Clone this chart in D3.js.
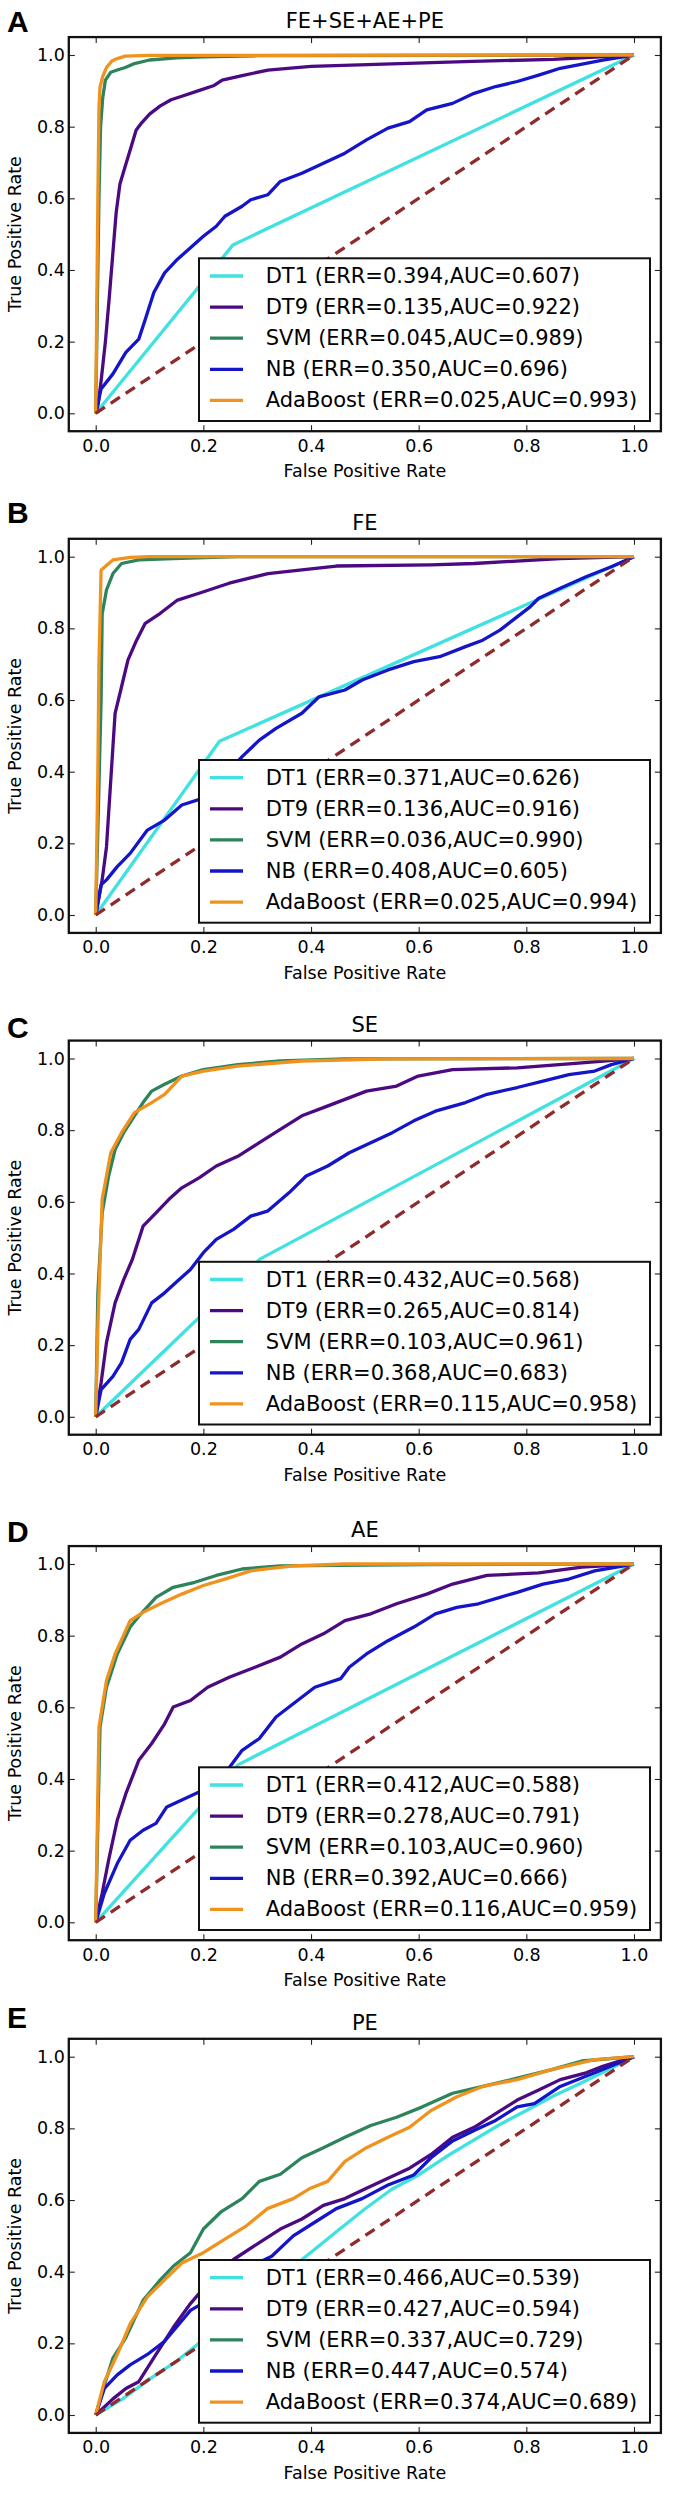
<!DOCTYPE html>
<html>
<head>
<meta charset="utf-8">
<script src="https://cdn.jsdelivr.net/npm/d3@7/dist/d3.min.js"></script>
<style>
  html, body { margin: 0; padding: 0; background: #fff; }
  svg { display: block; }
  text { font-family: "DejaVu Sans", sans-serif; fill: #000; }
</style>
</head>
<body>
<svg id="chart" width="674" height="2493"></svg>
<script>
// ---------------- DATA ----------------
const classifiers = ["DT1", "DT9", "SVM", "NB", "AdaBoost"];
const panelLetters = ["A", "B", "C", "D", "E"];
const panelTitles = ["FE+SE+AE+PE", "FE", "SE", "AE", "PE"];
const tickValues = [0.0, 0.2, 0.4, 0.6, 0.8, 1.0];
const tickLabels = ["0.0", "0.2", "0.4", "0.6", "0.8", "1.0"];
const xAxisTitle = "False Positive Rate";
const yAxisTitle = "True Positive Rate";

// ERR / AUC per panel, in classifier order
const errA = [0.394, 0.135, 0.045, 0.350, 0.025];
const aucA = [0.607, 0.922, 0.989, 0.696, 0.993];
const errB = [0.371, 0.136, 0.036, 0.408, 0.025];
const aucB = [0.626, 0.916, 0.990, 0.605, 0.994];
const errC = [0.432, 0.265, 0.103, 0.368, 0.115];
const aucC = [0.568, 0.814, 0.961, 0.683, 0.958];
const errD = [0.412, 0.278, 0.103, 0.392, 0.116];
const aucD = [0.588, 0.791, 0.960, 0.666, 0.959];
const errE = [0.466, 0.427, 0.337, 0.447, 0.374];
const aucE = [0.539, 0.594, 0.729, 0.574, 0.689];

const chanceLine = [[0, 0], [1, 1]];

// ROC curves [FPR, TPR]
// Panel A: FE+SE+AE+PE
const rocA_DT1 = [[0,0],[0.255,0.47],[1,1]];
const rocA_DT9 = [[0,0],[0.005,0.03],[0.01,0.09],[0.018,0.2],[0.025,0.32],[0.032,0.45],[0.038,0.56],[0.045,0.64],[0.055,0.69],[0.065,0.74],[0.075,0.79],[0.085,0.81],[0.1,0.835],[0.12,0.858],[0.14,0.875],[0.16,0.885],[0.19,0.9],[0.22,0.915],[0.235,0.93],[0.27,0.942],[0.32,0.958],[0.4,0.968],[0.55,0.975],[0.7,0.982],[0.85,0.988],[1,1]];
const rocA_SVM = [[0,0],[0.003,0.3],[0.006,0.6],[0.009,0.8],[0.013,0.88],[0.018,0.93],[0.028,0.952],[0.04,0.958],[0.055,0.965],[0.07,0.975],[0.1,0.986],[0.15,0.992],[0.2,0.995],[0.3,0.998],[1,1]];
const rocA_NB = [[0,0],[0.01,0.068],[0.032,0.11],[0.056,0.17],[0.08,0.207],[0.092,0.262],[0.108,0.337],[0.128,0.392],[0.152,0.43],[0.176,0.462],[0.2,0.494],[0.224,0.522],[0.24,0.55],[0.272,0.578],[0.288,0.596],[0.32,0.61],[0.343,0.647],[0.383,0.67],[0.423,0.698],[0.463,0.726],[0.503,0.763],[0.543,0.796],[0.583,0.814],[0.615,0.847],[0.663,0.865],[0.703,0.893],[0.743,0.912],[0.783,0.926],[0.823,0.944],[0.863,0.963],[0.942,0.986],[1,1]];
const rocA_Ada = [[0,0],[0.002,0.3],[0.004,0.6],[0.006,0.85],[0.008,0.91],[0.013,0.94],[0.02,0.965],[0.03,0.983],[0.04,0.99],[0.055,0.997],[0.1,0.999],[1,1]];

// Panel B: FE
const rocB_DT1 = [[0,0],[0.23,0.485],[1,1]];
const rocB_DT9 = [[0,0],[0.012,0.098],[0.02,0.19],[0.028,0.377],[0.036,0.563],[0.048,0.637],[0.06,0.712],[0.076,0.767],[0.092,0.814],[0.12,0.842],[0.152,0.879],[0.192,0.898],[0.248,0.926],[0.32,0.953],[0.383,0.963],[0.447,0.974],[0.623,0.977],[0.703,0.981],[0.863,0.995],[1,1]];
const rocB_SVM = [[0,0],[0.005,0.3],[0.01,0.6],[0.012,0.84],[0.02,0.907],[0.032,0.953],[0.048,0.981],[0.08,0.991],[0.144,0.995],[0.264,1],[1,1]];
const rocB_NB = [[0,0],[0.01,0.084],[0.02,0.098],[0.04,0.135],[0.064,0.172],[0.096,0.237],[0.128,0.265],[0.16,0.307],[0.2,0.326],[0.232,0.377],[0.272,0.442],[0.304,0.488],[0.335,0.521],[0.383,0.563],[0.415,0.609],[0.463,0.628],[0.495,0.656],[0.543,0.684],[0.591,0.707],[0.639,0.721],[0.687,0.749],[0.719,0.767],[0.751,0.795],[0.775,0.823],[0.807,0.86],[0.823,0.884],[0.863,0.912],[0.911,0.944],[0.958,0.972],[1,1]];
const rocB_Ada = [[0,0],[0.004,0.4],[0.006,0.7],[0.01,0.963],[0.032,0.991],[0.064,0.998],[0.1,1],[1,1]];

// Panel C: SE
const rocC_DT1 = [[0,0],[0.305,0.44],[1,1]];
const rocC_DT9 = [[0,0],[0.01,0.095],[0.02,0.207],[0.036,0.318],[0.052,0.383],[0.068,0.439],[0.088,0.532],[0.112,0.569],[0.136,0.607],[0.16,0.639],[0.192,0.667],[0.224,0.7],[0.264,0.727],[0.304,0.765],[0.343,0.802],[0.383,0.84],[0.423,0.863],[0.463,0.886],[0.503,0.909],[0.559,0.923],[0.599,0.951],[0.663,0.969],[0.783,0.974],[0.903,0.988],[1,1]];
const rocC_SVM = [[0,0],[0.004,0.346],[0.012,0.569],[0.024,0.672],[0.036,0.746],[0.052,0.793],[0.072,0.84],[0.088,0.877],[0.104,0.909],[0.128,0.928],[0.16,0.951],[0.2,0.969],[0.264,0.983],[0.343,0.993],[0.463,0.999],[1,1]];
const rocC_NB = [[0,0],[0.01,0.076],[0.032,0.113],[0.048,0.151],[0.064,0.216],[0.08,0.244],[0.104,0.318],[0.128,0.346],[0.152,0.379],[0.176,0.411],[0.2,0.458],[0.224,0.495],[0.256,0.523],[0.288,0.56],[0.319,0.574],[0.359,0.625],[0.391,0.672],[0.431,0.7],[0.471,0.737],[0.511,0.765],[0.551,0.793],[0.591,0.826],[0.631,0.853],[0.687,0.877],[0.727,0.9],[0.783,0.919],[0.831,0.937],[0.879,0.955],[0.927,0.965],[0.958,0.983],[1,1]];
const rocC_Ada = [[0,0],[0.004,0.253],[0.012,0.607],[0.028,0.737],[0.048,0.793],[0.072,0.849],[0.104,0.877],[0.128,0.9],[0.16,0.951],[0.2,0.965],[0.264,0.979],[0.383,0.993],[0.543,0.999],[1,1]];

// Panel D: AE
const rocD_DT1 = [[0,0],[0.265,0.44],[1,1]];
const rocD_DT9 = [[0,0],[0.012,0.081],[0.024,0.174],[0.04,0.285],[0.056,0.359],[0.08,0.452],[0.104,0.499],[0.128,0.554],[0.144,0.601],[0.176,0.619],[0.208,0.656],[0.248,0.684],[0.296,0.712],[0.343,0.74],[0.383,0.777],[0.423,0.805],[0.463,0.842],[0.511,0.861],[0.559,0.889],[0.615,0.916],[0.663,0.944],[0.727,0.968],[0.823,0.975],[0.903,0.991],[1,1]];
const rocD_SVM = [[0,0],[0.008,0.545],[0.02,0.656],[0.04,0.749],[0.064,0.824],[0.084,0.861],[0.112,0.907],[0.144,0.935],[0.184,0.949],[0.224,0.968],[0.272,0.986],[0.343,0.995],[0.623,0.998],[1,1]];
const rocD_NB = [[0,0],[0.016,0.081],[0.04,0.164],[0.064,0.229],[0.088,0.257],[0.112,0.276],[0.132,0.322],[0.16,0.341],[0.2,0.369],[0.24,0.415],[0.272,0.48],[0.304,0.513],[0.335,0.573],[0.367,0.61],[0.407,0.656],[0.455,0.68],[0.471,0.712],[0.503,0.749],[0.543,0.786],[0.591,0.824],[0.631,0.861],[0.671,0.879],[0.711,0.889],[0.751,0.907],[0.783,0.921],[0.831,0.944],[0.879,0.958],[0.927,0.981],[1,1]];
const rocD_Ada = [[0,0],[0.006,0.545],[0.02,0.675],[0.036,0.749],[0.064,0.842],[0.088,0.865],[0.12,0.889],[0.16,0.916],[0.2,0.94],[0.24,0.958],[0.288,0.981],[0.367,0.995],[0.463,1],[1,1]];

// Panel E: PE
const rocE_DT1 = [[0,0],[0.05,0.045],[0.1,0.1],[0.15,0.15],[0.2,0.21],[0.3,0.32],[0.38,0.43],[0.45,0.515],[0.5,0.575],[0.55,0.63],[0.6,0.67],[0.65,0.72],[0.7,0.765],[0.75,0.81],[0.8,0.85],[0.85,0.89],[0.9,0.925],[0.95,0.962],[1,1]];
const rocE_DT9 = [[0,0],[0.032,0.045],[0.056,0.074],[0.08,0.093],[0.112,0.169],[0.144,0.244],[0.176,0.311],[0.208,0.367],[0.256,0.434],[0.304,0.481],[0.343,0.519],[0.383,0.547],[0.423,0.585],[0.463,0.604],[0.503,0.633],[0.543,0.661],[0.583,0.689],[0.623,0.727],[0.663,0.775],[0.703,0.803],[0.743,0.841],[0.783,0.879],[0.823,0.907],[0.863,0.936],[0.911,0.955],[0.942,0.973],[1,1]];
const rocE_SVM = [[0,0],[0.016,0.083],[0.032,0.159],[0.056,0.216],[0.088,0.32],[0.12,0.377],[0.144,0.415],[0.176,0.453],[0.2,0.519],[0.232,0.566],[0.272,0.604],[0.304,0.652],[0.343,0.672],[0.383,0.718],[0.423,0.746],[0.463,0.775],[0.511,0.808],[0.559,0.831],[0.607,0.86],[0.663,0.898],[0.719,0.917],[0.783,0.94],[0.847,0.964],[0.903,0.988],[1,1]];
const rocE_NB = [[0,0],[0.016,0.074],[0.04,0.112],[0.064,0.14],[0.096,0.169],[0.128,0.206],[0.16,0.263],[0.176,0.292],[0.208,0.32],[0.248,0.358],[0.288,0.415],[0.327,0.443],[0.367,0.5],[0.407,0.538],[0.447,0.576],[0.495,0.604],[0.543,0.642],[0.591,0.67],[0.623,0.718],[0.663,0.765],[0.703,0.794],[0.743,0.822],[0.783,0.86],[0.815,0.869],[0.863,0.917],[0.927,0.955],[1,1]];
const rocE_Ada = [[0,0],[0.016,0.093],[0.04,0.169],[0.064,0.254],[0.096,0.33],[0.128,0.377],[0.16,0.424],[0.2,0.453],[0.24,0.491],[0.28,0.528],[0.319,0.576],[0.367,0.604],[0.399,0.633],[0.431,0.652],[0.463,0.708],[0.503,0.746],[0.543,0.775],[0.583,0.803],[0.623,0.85],[0.671,0.888],[0.719,0.917],[0.783,0.936],[0.847,0.964],[0.927,0.992],[1,1]];

// ---------------- STYLE / LAYOUT ----------------
const seriesColors = ["#3fe2e0", "#4b0a82", "#2e845a", "#1414c8", "#f0921e"];
const chanceColor = "#8f2b2b";
const Y1 = [55, 556.7, 1058.5, 1564, 2056.7];          // pixel of TPR = 1.0 for each panel
const LETTER_BASE = [31.7, 523.3, 1037.5, 1542, 2028.3];
const UNIT_H = 358.3;

const panels = [
  { roc: [rocA_DT1, rocA_DT9, rocA_SVM, rocA_NB, rocA_Ada], err: errA, auc: aucA },
  { roc: [rocB_DT1, rocB_DT9, rocB_SVM, rocB_NB, rocB_Ada], err: errB, auc: aucB },
  { roc: [rocC_DT1, rocC_DT9, rocC_SVM, rocC_NB, rocC_Ada], err: errC, auc: aucC },
  { roc: [rocD_DT1, rocD_DT9, rocD_SVM, rocD_NB, rocD_Ada], err: errD, auc: aucD },
  { roc: [rocE_DT1, rocE_DT9, rocE_SVM, rocE_NB, rocE_Ada], err: errE, auc: aucE }
];

const svg = d3.select("#chart");
const x = d3.scaleLinear().domain([-0.05, 1.05]).range([68.8, 660.9]);
const fmt = d3.format(".3f");

panels.forEach((p, i) => {
  const y = d3.scaleLinear().domain([0, 1]).range([Y1[i] + UNIT_H, Y1[i]]);
  const g = svg.append("g");
  const left = x(-0.05), right = x(1.05), top = y(1.05), bottom = y(-0.05);
  const cx = (left + right) / 2;

  // Panel letter
  g.append("text").attr("x", 7).attr("y", LETTER_BASE[i])
    .style("font-family", "'Liberation Sans', Arial, sans-serif")
    .style("font-weight", "bold").style("font-size", "30px")
    .text(panelLetters[i]);

  // Title
  g.append("text").attr("x", cx).attr("y", Y1[i] - 34)
    .attr("text-anchor", "middle").attr("dominant-baseline", "central")
    .style("font-size", "21px").text(panelTitles[i]);

  // Curves
  const line = d3.line().x(d => x(d[0])).y(d => y(d[1]));
  p.roc.forEach((data, k) => {
    g.append("path").datum(data).attr("d", line)
      .attr("fill", "none").attr("stroke", seriesColors[k])
      .attr("stroke-width", 3.3).attr("stroke-linejoin", "round").attr("stroke-linecap", "butt");
  });
  g.append("path").datum(chanceLine).attr("d", line)
    .attr("fill", "none").attr("stroke", chanceColor)
    .attr("stroke-width", 3.3).attr("stroke-dasharray", "11,7");

  // Axes (ticks inside on all sides)
  const fmtTick = (d) => tickLabels[tickValues.indexOf(d)];
  const axB = g.append("g").attr("transform", `translate(0,${bottom})`)
    .call(d3.axisBottom(x).tickValues(tickValues).tickFormat(fmtTick).tickSize(-6).tickSizeOuter(0).tickPadding(8));
  const axT = g.append("g").attr("transform", `translate(0,${top})`)
    .call(d3.axisTop(x).tickValues(tickValues).tickFormat("").tickSize(-6).tickSizeOuter(0));
  const axL = g.append("g").attr("transform", `translate(${left},0)`)
    .call(d3.axisLeft(y).tickValues(tickValues).tickFormat(fmtTick).tickSize(-6).tickSizeOuter(0).tickPadding(4));
  const axR = g.append("g").attr("transform", `translate(${right},0)`)
    .call(d3.axisRight(y).tickValues(tickValues).tickFormat("").tickSize(-6).tickSizeOuter(0));
  [axB, axT, axL, axR].forEach(a => {
    a.select(".domain").remove();
    a.selectAll(".tick line").attr("stroke", "#222").attr("stroke-width", 1.1);
    a.selectAll("text").style("font-family", "'DejaVu Sans', sans-serif").style("font-size", "17.5px").attr("fill", "#111");
  });

  // Frame
  g.append("rect").attr("x", left).attr("y", top)
    .attr("width", right - left).attr("height", bottom - top)
    .attr("fill", "none").attr("stroke", "#111").attr("stroke-width", 2.3);

  // Axis titles
  g.append("text").attr("x", cx).attr("y", y(0) + 57.7)
    .attr("text-anchor", "middle").attr("dominant-baseline", "central")
    .style("font-size", "17.5px").text(xAxisTitle);
  g.append("text")
    .attr("transform", `translate(15,${(top + bottom) / 2}) rotate(-90)`)
    .attr("text-anchor", "middle").attr("dominant-baseline", "central")
    .style("font-size", "17.5px").text(yAxisTitle);

  // Legend
  const y0 = y(0);
  const lg = g.append("g");
  lg.append("rect").attr("x", 199).attr("y", y0 - 155)
    .attr("width", 451).attr("height", 162.7)
    .attr("fill", "#fff").attr("stroke", "#111").attr("stroke-width", 2);
  classifiers.forEach((name, k) => {
    const ry = y0 - 137.3 + k * 31.1;
    lg.append("line").attr("x1", 210).attr("x2", 243).attr("y1", ry).attr("y2", ry)
      .attr("stroke", seriesColors[k]).attr("stroke-width", 3.3);
    lg.append("text").attr("x", 265.7).attr("y", ry)
      .attr("dominant-baseline", "central").style("font-size", "21px")
      .text(`${name} (ERR=${fmt(p.err[k])},AUC=${fmt(p.auc[k])})`);
  });
});
</script>
</body>
</html>
